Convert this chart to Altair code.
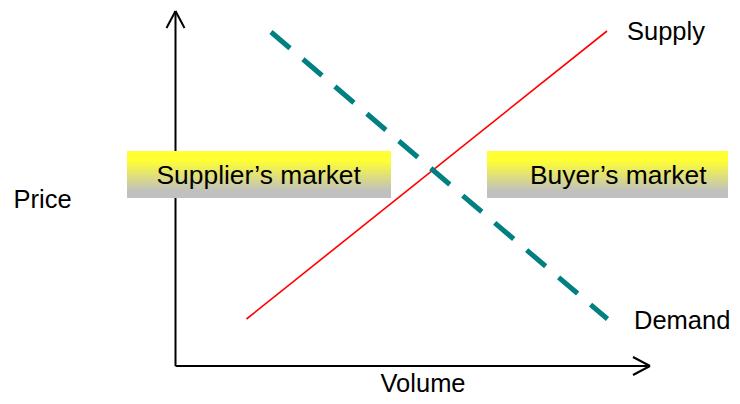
import altair as alt
import pandas as pd

# Diagram units: origin at the corner of the Volume / Price axes
# Supply and demand curves (start / end points)
supply_vol = [71, 431.5]
supply_price = [47, 335]
demand_vol = [95.5, 432]
demand_price = [334, 47]

# Axis extents (Volume axis, Price axis) and arrowhead arms
volume_axis_end = 474.5
price_axis_end = 355
arrow_back = 17
arrow_half = 9

# Market zones
market_labels = ["Supplier’s market", "Buyer’s market"]
market_vol_from = [-48.5, 311.5]
market_vol_to = [215.5, 552.5]
market_price_from = [168, 168]
market_price_to = [215, 215]
market_label_vol = [-19, 354.5]
market_label_price = [181.7, 181.7]

# Curve / axis labels
labels = ["Supply", "Demand", "Price", "Volume"]
label_vol = [451.5, 458.5, -162, 205]
label_price = [326, 36.7, 158, -25.5]

xs = alt.Scale(domain=[-167.5, 556.5], nice=False, zero=False)
ys = alt.Scale(domain=[-30, 358], nice=False, zero=False)

def X(f):
    return alt.X(f, type="quantitative", scale=xs, axis=None)

def Y(f):
    return alt.Y(f, type="quantitative", scale=ys, axis=None)

# axes segments with arrowheads
axes_df = pd.DataFrame({
    "x0": [0, 0, 0, 0, volume_axis_end, volume_axis_end],
    "y0": [0, 0, price_axis_end, price_axis_end, 0, 0],
    "x1": [volume_axis_end, 0, -arrow_half, arrow_half,
           volume_axis_end - arrow_back, volume_axis_end - arrow_back],
    "y1": [0, price_axis_end, price_axis_end - arrow_back, price_axis_end - arrow_back,
           arrow_half, -arrow_half],
})

axes = alt.Chart(axes_df).mark_rule(color="black", strokeWidth=2).encode(
    x=X("x0"), y=Y("y0"), x2="x1", y2="y1"
)

supply_df = pd.DataFrame({"x0": [supply_vol[0]], "y0": [supply_price[0]],
                          "x1": [supply_vol[1]], "y1": [supply_price[1]]})
supply = alt.Chart(supply_df).mark_rule(color="#ff0000", strokeWidth=1.6).encode(
    x=X("x0"), y=Y("y0"), x2="x1", y2="y1"
)

demand_df = pd.DataFrame({"x0": [demand_vol[0]], "y0": [demand_price[0]],
                          "x1": [demand_vol[1]], "y1": [demand_price[1]]})
demand = alt.Chart(demand_df).mark_rule(
    color="#008080", strokeWidth=5, strokeDash=[25, 17], strokeCap="butt"
).encode(x=X("x0"), y=Y("y0"), x2="x1", y2="y1")

zones_df = pd.DataFrame({
    "label": market_labels,
    "x0": market_vol_from, "x1": market_vol_to,
    "y0": market_price_from, "y1": market_price_to,
    "tx": market_label_vol, "ty": market_label_price,
})

grad = alt.Gradient(
    gradient="linear",
    stops=[
        alt.GradientStop(color="#ffff33", offset=0),
        alt.GradientStop(color="#ffff33", offset=0.2),
        alt.GradientStop(color="#c0c0c0", offset=0.85),
        alt.GradientStop(color="#c0c0c0", offset=1),
    ],
    x1=0, x2=0, y1=0, y2=1,
)

zones = alt.Chart(zones_df).mark_rect(fill=grad).encode(
    x=X("x0"), x2="x1", y=Y("y1"), y2="y0"
)

zone_text = alt.Chart(zones_df).mark_text(
    align="left", baseline="alphabetic", font="Liberation Sans", fontSize=26.4, color="black"
).encode(x=X("tx"), y=Y("ty"), text="label:N")

labels_df = pd.DataFrame({"label": labels, "x": label_vol, "y": label_price})
label_text = alt.Chart(labels_df).mark_text(
    align="left", baseline="alphabetic", font="Liberation Sans", fontSize=25.5, color="black"
).encode(x=X("x"), y=Y("y"), text="label:N")

chart = alt.layer(axes, zones, zone_text, supply, demand, label_text).properties(
    width=724, height=388,
    autosize=alt.AutoSizeParams(type="none"),
    padding=0,
    background="white",
).configure_view(stroke=None)

chart.save("out.html", embed_options={"renderer": "svg", "actions": False})
